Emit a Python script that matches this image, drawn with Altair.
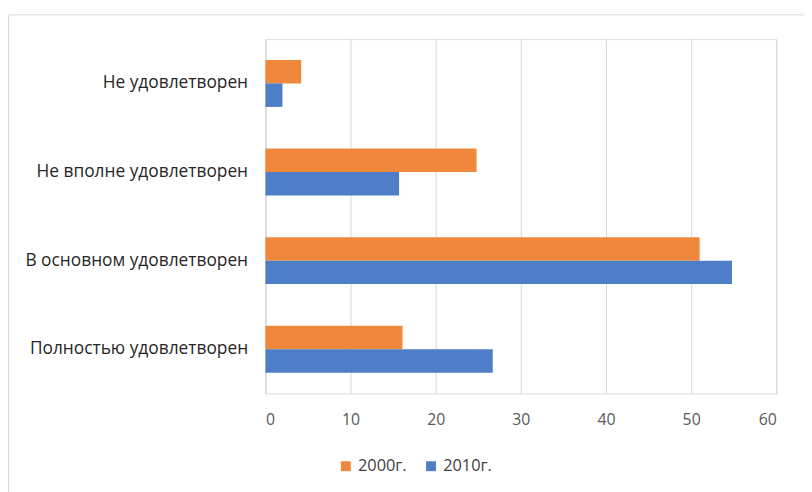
import altair as alt
import pandas as pd

categories = ["Не удовлетворен", "Не вполне удовлетворен", "В основном удовлетворен", "Полностью удовлетворен"]
series = ["2000г.", "2010г."]
values_2000 = [4.2, 24.8, 51.0, 16.1]
values_2010 = [2.0, 15.7, 54.8, 26.7]
colors = ["#F0883C", "#4E7EC8"]

rows = []
for c, a, b in zip(categories, values_2000, values_2010):
    rows.append({"cat": c, "series": series[0], "value": a})
    rows.append({"cat": c, "series": series[1], "value": b})
df = pd.DataFrame(rows)

FONT = "Open Sans"
W, H = 516, 358

bars = alt.Chart(df).mark_bar().encode(
    y=alt.Y("cat:N", sort=categories, title=None,
            scale=alt.Scale(paddingInner=0.47, paddingOuter=0.235),
            axis=alt.Axis(labelFontSize=17.5, labelColor="#262626", labelFont=FONT,
                          ticks=False, domain=True, domainColor="#d9d9d9",
                          labelPadding=18, labelLimit=400)),
    yOffset=alt.YOffset("series:N", sort=series),
    x=alt.X("value:Q", title=None,
            scale=alt.Scale(domain=[0, 60], nice=False),
            axis=alt.Axis(values=[0, 10, 20, 30, 40, 50, 60], labelFontSize=16,
                          labelColor="#595959", labelFont=FONT, ticks=False,
                          domain=False, grid=True, gridColor="#d9d9d9",
                          labelPadding=18)),
    color=alt.Color("series:N", sort=series,
                    scale=alt.Scale(domain=series, range=colors),
                    legend=alt.Legend(orient="none", legendX=73, legendY=423,
                                      direction="horizontal",
                                      title=None, symbolType="square",
                                      symbolSize=100, symbolStrokeWidth=0,
                                      labelFontSize=16.5, labelFont=FONT,
                                      labelColor="#404040", columnPadding=16)),
)

frame = alt.Chart(pd.DataFrame({"f": [0]})).mark_rect(
    fill=None, stroke="#d9d9d9", strokeWidth=1
).encode(
    x=alt.value(-259.5), x2=alt.value(W + 100),
    y=alt.value(-24.5), y2=alt.value(H + 200),
)

chart = alt.layer(frame, bars).properties(
    width=W, height=H,
    autosize=alt.AutoSizeParams(type="none"),
    padding={"top": 29, "left": 260, "right": 28, "bottom": 97},
).configure_view(stroke=None).configure(background="white")

chart.save("out.html", embed_options={"renderer": "svg", "actions": False})
